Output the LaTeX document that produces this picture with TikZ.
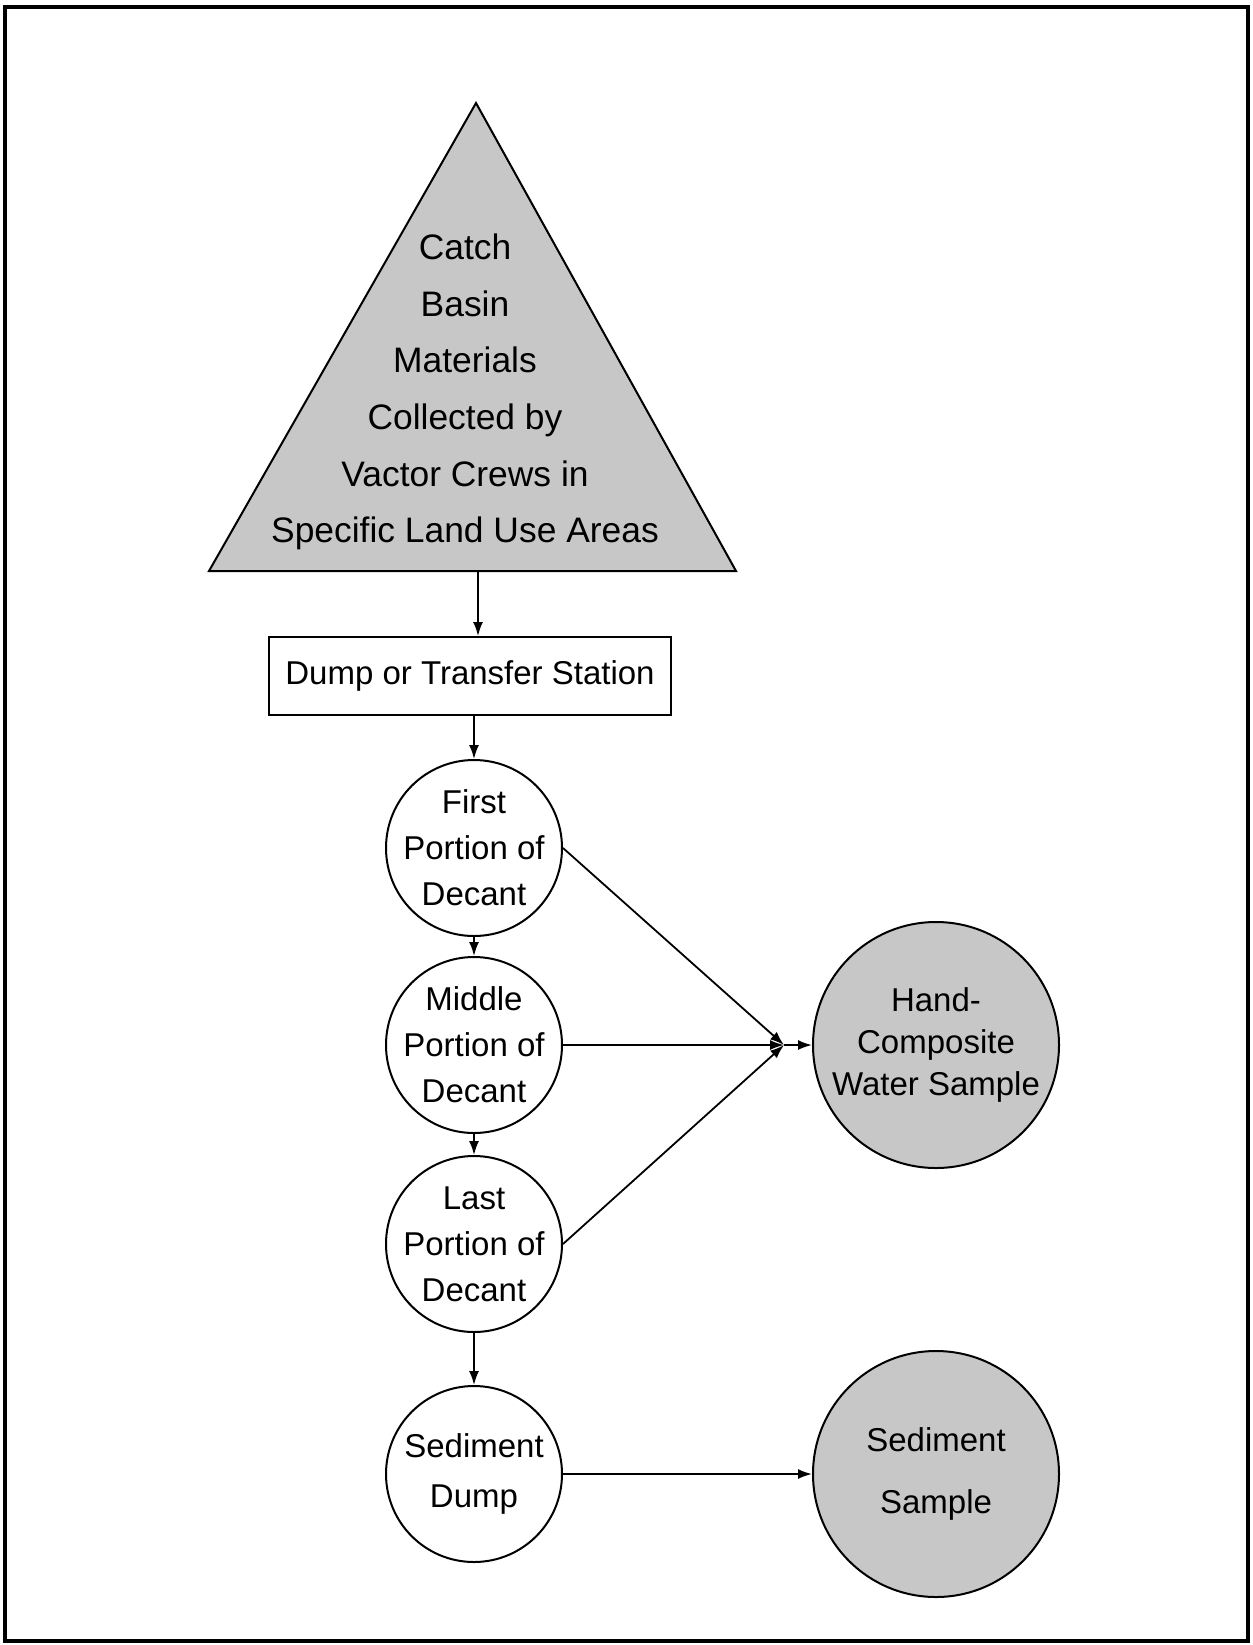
\documentclass[tikz,border=0pt]{standalone}
\usepackage{fontspec}
\setmainfont{Liberation Sans}
\usetikzlibrary{positioning,arrows.meta}

\begin{document}
\begin{tikzpicture}[x=0.5pt,y=-0.5pt,>={Latex[length=7pt,width=5pt]},
  lab/.style={font=\fontsize{16.5}{23}\selectfont,align=center},
  dec/.style={lab,draw,circle,line width=1pt,minimum size=88pt,inner sep=-6pt},
  smp/.style={dec,fill=black!22,minimum size=123pt},
  ln/.style={->,line width=0.9pt}]
  \useasboundingbox (0,0) rectangle (1253,1645);
  \draw[line width=2.2pt] (5,7) rectangle (1248,1641);
  % catch basin source
  \draw[fill=black!22,line width=1pt] (476,103) -- (736,571) -- (209,571) -- cycle;
  \node[lab,font=\fontsize{17.7}{28.3}\selectfont] (t1) at (465,392) {Catch\\Basin\\Materials\\Collected by\\Vactor Crews in\\Specific Land Use Areas};
  \coordinate (t2) at (478,571);

  \node[lab,draw,line width=1pt,minimum width=201pt,minimum height=39pt] (d1) at (470,676) {Dump or Transfer Station};

  \node[dec] (c1) at (474,848) {First\\Portion of\\Decant};
  \node[dec] (c2) at (474,1045) {Middle\\Portion of\\Decant};
  \node[dec] (c3) at (474,1244) {Last\\Portion of\\Decant};
  \node[dec,font=\fontsize{16.5}{24.7}\selectfont] (c4) at (474,1474) {Sediment\\Dump};

  \node[smp,font=\fontsize{16.5}{21}\selectfont] (h1) at (936,1045) {Hand-\\Composite\\Water Sample};
  \node[smp,font=\fontsize{16.5}{31}\selectfont] (s1) at (936,1474) {Sediment\\Sample};
  \coordinate (j) at (784,1045);

  \draw[ln] (t2) -- (d1.north -| t2);
  \draw[ln] (d1.south -| c1) -- (c1);
  \draw[ln] (c1) -- (c2);
  \draw[ln] (c2) -- (c3);
  \draw[ln] (c3) -- (c4);
  \draw[ln] (c1.east) -- (j);
  \draw[ln] (c2.east) -- (j);
  \draw[ln] (c3.east) -- (j);
  \draw[ln] (j) -- (h1);
  \draw[ln] (c4) -- (s1);
\end{tikzpicture}
\end{document}
